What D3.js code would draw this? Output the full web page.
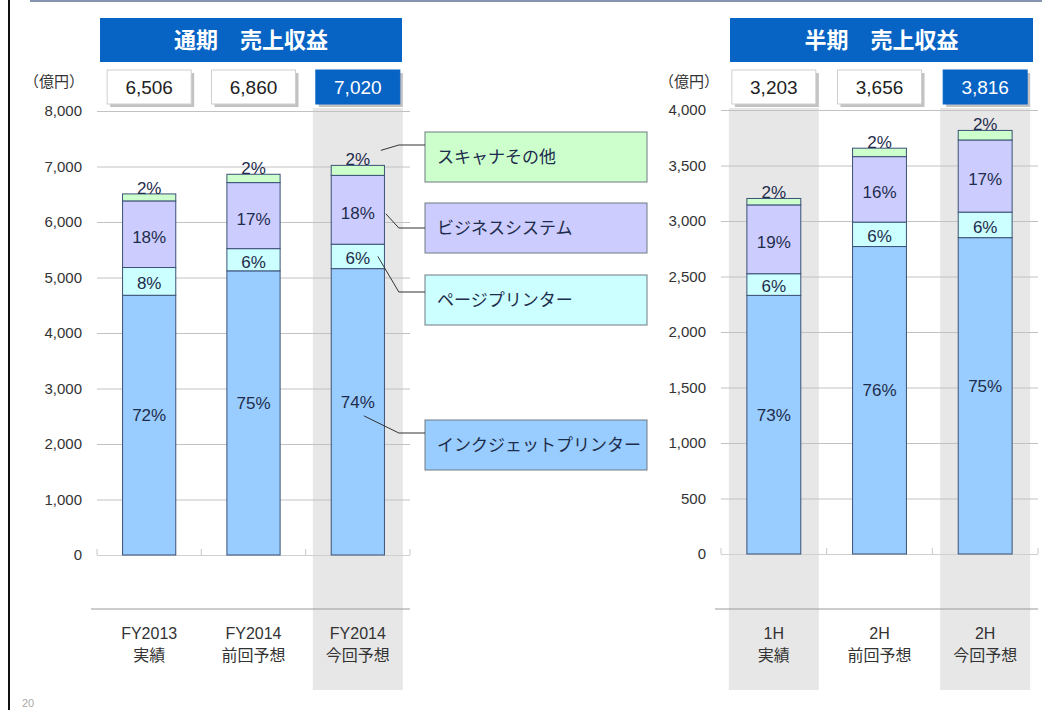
<!DOCTYPE html>
<html>
<head>
<meta charset="utf-8">
<script src="https://cdn.jsdelivr.net/npm/d3@7"></script>
<style>
body { margin: 0; background: #fff; }
svg { display: block; }
text { font-family: "Liberation Sans", Arial, "Noto Sans CJK JP", sans-serif; }
.jp { font-family: "Noto Sans CJK JP", "Liberation Sans", sans-serif; }
</style>
</head>
<body>
<svg id="chart" width="1051" height="710"></svg>
<script>
"use strict";
// segments, bottom to top
const segmentKeys = ["inkjet", "page", "business", "other"];
const segmentNames = ["インクジェットプリンター", "ページプリンター", "ビジネスシステム", "スキャナその他"];
const segmentColors = ["#99ccff", "#ccffff", "#ccccff", "#ccffcc"];

// full year (億円)
const fyTitle = "通期　売上収益";
const fyYear = ["FY2013", "FY2014", "FY2014"];
const fyKind = ["実績", "前回予想", "今回予想"];
const fyTotals = [6506, 6860, 7020];
const fyInkjet = [4680, 5120, 5160];
const fyPage = [500, 400, 440];
const fyBusiness = [1200, 1190, 1240];
const fyOther = [126, 150, 180];
const fyInkjetPct = [72, 75, 74];
const fyPagePct = [8, 6, 6];
const fyBusinessPct = [18, 17, 18];
const fyOtherPct = [2, 2, 2];
const fyTicks = [0, 1000, 2000, 3000, 4000, 5000, 6000, 7000, 8000];

// half year (億円)
const halfTitle = "半期　売上収益";
const halfPeriod = ["1H", "2H", "2H"];
const halfKind = ["実績", "前回予想", "今回予想"];
const halfTotals = [3203, 3656, 3816];
const halfInkjet = [2330, 2770, 2850];
const halfPage = [195, 220, 230];
const halfBusiness = [620, 590, 650];
const halfOther = [58, 76, 86];
const halfInkjetPct = [73, 76, 75];
const halfPagePct = [6, 6, 6];
const halfBusinessPct = [19, 16, 17];
const halfOtherPct = [2, 2, 2];
const halfTicks = [0, 500, 1000, 1500, 2000, 2500, 3000, 3500, 4000];

const BLUE = "#0763c4";
const INK = "#1e2c4c";

const svg = d3.select("#chart");

// page frame
svg.append("line").attr("x1", 9).attr("x2", 9).attr("y1", 0).attr("y2", 710)
    .attr("stroke", "#111").attr("stroke-width", 2);
svg.append("line").attr("x1", 30).attr("x2", 1042).attr("y1", 1).attr("y2", 1)
    .attr("stroke", "#8794ae").attr("stroke-width", 2);
svg.append("text").attr("x", 22).attr("y", 707).attr("font-size", 11)
    .attr("fill", "#aaa").text("20");

function buildRows(cols, pcts) {
    return cols[0].map((_, i) => {
        const r = { index: i };
        segmentKeys.forEach((k, j) => { r[k] = cols[j][i]; r[k + "Pct"] = pcts[j][i]; });
        return r;
    });
}

function drawPanel(p) {
    const n = p.rows.length;
    const x = d3.scaleBand().domain(d3.range(n)).range(p.xRange)
        .paddingInner(0.49).paddingOuter(0.245);
    const y = d3.scaleLinear().domain([0, p.ticks[p.ticks.length - 1]]).range([p.baseY, p.topY]);
    const bw = x.bandwidth();
    const cx = (i) => x(i) + bw / 2;
    const g = svg.append("g");

    // highlighted columns
    g.selectAll("rect.band").data(p.highlight).join("rect")
        .attr("class", "band")
        .attr("x", (i) => cx(i) - 45).attr("y", 108)
        .attr("width", 90).attr("height", 582)
        .attr("fill", "#e7e7e7");

    // title bar
    g.append("rect").attr("x", p.titleX).attr("y", 18).attr("width", p.titleW).attr("height", 44)
        .attr("fill", BLUE);
    g.append("text").attr("class", "jp")
        .attr("x", p.titleX + p.titleW / 2).attr("y", 40).attr("dy", "0.35em")
        .attr("text-anchor", "middle").attr("fill", "#fff")
        .attr("font-size", 22).attr("font-weight", "bold").text(p.title);

    // unit
    g.append("text").attr("class", "jp").attr("x", p.unitX).attr("y", 82).attr("dy", "0.35em")
        .attr("text-anchor", "end").attr("font-size", 15).attr("fill", "#333").text("（億円）");

    // total value boxes
    const boxes = g.selectAll("g.total").data(p.totals).join("g").attr("class", "total");
    boxes.append("rect")
        .attr("x", (d, i) => cx(i) - 42 + 3).attr("y", 73)
        .attr("width", 84).attr("height", 34).attr("fill", "#9a9a9a").attr("opacity", 0.6);
    boxes.append("rect")
        .attr("x", (d, i) => cx(i) - 42).attr("y", 70)
        .attr("width", 84).attr("height", 34)
        .attr("fill", (d, i) => i === p.emphasis ? BLUE : "#fff")
        .attr("stroke", (d, i) => i === p.emphasis ? BLUE : "#cfcfcf");
    boxes.append("text")
        .attr("x", (d, i) => cx(i)).attr("y", 87).attr("dy", "0.35em")
        .attr("text-anchor", "middle").attr("font-size", 19)
        .attr("fill", (d, i) => i === p.emphasis ? "#fff" : "#222")
        .text((d) => d3.format(",")(d));

    // gridlines + tick labels
    g.append("g").attr("transform", `translate(${p.xRange[0]},0)`)
        .call(d3.axisLeft(y).tickValues(p.ticks).tickFormat(d3.format(","))
            .tickSize(-(p.xRange[1] - p.xRange[0])).tickPadding(p.xRange[0] - p.labelX))
        .call((a) => a.select(".domain").remove())
        .call((a) => a.selectAll(".tick line").attr("stroke", (d) => d === 0 ? "#d0d0d0" : "#c2c2c2"))
        .call((a) => a.selectAll(".tick text").attr("font-size", 15).attr("fill", "#333"));

    // small separators on the zero line
    g.selectAll("line.sep").data(d3.range(n + 1)).join("line")
        .attr("class", "sep")
        .attr("x1", (i) => p.xRange[0] + i * (p.xRange[1] - p.xRange[0]) / n)
        .attr("x2", (i) => p.xRange[0] + i * (p.xRange[1] - p.xRange[0]) / n)
        .attr("y1", y(0) - 6).attr("y2", y(0)).attr("stroke", "#c8c8c8");

    // stacked bars
    const stack = d3.stack().keys(segmentKeys)(p.rows);
    g.selectAll("g.layer").data(stack).join("g")
        .attr("class", "layer")
        .attr("fill", (d, j) => segmentColors[j])
        .selectAll("rect").data((d) => d).join("rect")
        .attr("x", (d) => x(d.data.index)).attr("width", bw)
        .attr("y", (d) => y(d[1])).attr("height", (d) => y(d[0]) - y(d[1]))
        .attr("stroke", "#3b5175").attr("stroke-width", 1);

    // percentage labels
    const labelPos = [];
    stack.forEach((layer, j) => {
        layer.forEach((d) => {
            const mid = (y(d[0]) + y(d[1])) / 2;
            let ly = mid;
            if (j === 0) ly = mid - 10;
            else if (j === 1) ly = mid + 2;
            else if (j === 2) ly = mid + 3;
            else ly = y(d[1]) - 6;
            labelPos.push({ j: j, i: d.data.index, x: cx(d.data.index), y: ly, v: d.data[segmentKeys[j] + "Pct"] });
        });
    });
    g.selectAll("text.pct").data(labelPos).join("text")
        .attr("class", "pct")
        .attr("x", (d) => d.x).attr("y", (d) => d.y).attr("dy", "0.35em")
        .attr("text-anchor", "middle").attr("font-size", 17).attr("fill", INK)
        .text((d) => d.v + "%");

    // category axis
    g.append("line").attr("x1", p.xRange[0] - 6).attr("x2", p.xRange[1])
        .attr("y1", 609).attr("y2", 609).attr("stroke", "#9a9a9a");
    const cats = g.selectAll("g.cat").data(p.line1).join("g").attr("class", "cat");
    cats.append("text").attr("x", (d, i) => cx(i)).attr("y", 633).attr("dy", "0.35em")
        .attr("text-anchor", "middle").attr("font-size", 16).attr("fill", "#333").text((d) => d);
    cats.append("text").attr("class", "jp").attr("x", (d, i) => cx(i)).attr("y", 655).attr("dy", "0.35em")
        .attr("text-anchor", "middle").attr("font-size", 16).attr("fill", "#333")
        .text((d, i) => p.line2[i]);

    return labelPos.filter((d) => d.i === p.emphasis);
}

const fyLabels = drawPanel({
    title: fyTitle, titleX: 100, titleW: 302,
    rows: buildRows([fyInkjet, fyPage, fyBusiness, fyOther], [fyInkjetPct, fyPagePct, fyBusinessPct, fyOtherPct]),
    totals: fyTotals, ticks: fyTicks, line1: fyYear, line2: fyKind,
    xRange: [97, 410], baseY: 555, topY: 111, labelX: 82, unitX: 84,
    highlight: [2], emphasis: 2
});

drawPanel({
    title: halfTitle, titleX: 730, titleW: 303,
    rows: buildRows([halfInkjet, halfPage, halfBusiness, halfOther], [halfInkjetPct, halfPagePct, halfBusinessPct, halfOtherPct]),
    totals: halfTotals, ticks: halfTicks, line1: halfPeriod, line2: halfKind,
    xRange: [721, 1038], baseY: 554, topY: 110, labelX: 706, unitX: 719,
    highlight: [0, 2], emphasis: 2
});

// legend boxes, with leader lines from the current forecast bar
const legendX = 425, legendW = 222, legendH = 50;
const legendTop = [420, 275, 203, 132];      // inkjet, page, business, other
const leaderEnd = [13, 17, 25, 13];
const leaderStart = [[6, 14], [20, -2], [28, 1], [23, -9]];

const legend = svg.append("g");
segmentKeys.forEach((k, j) => {
    legend.append("rect").attr("x", legendX).attr("y", legendTop[j])
        .attr("width", legendW).attr("height", legendH)
        .attr("fill", segmentColors[j]).attr("stroke", "#6f7a80");
    legend.append("text").attr("class", "jp")
        .attr("x", legendX + 12).attr("y", legendTop[j] + legendH / 2).attr("dy", "0.35em")
        .attr("font-size", 17).attr("fill", INK).text(segmentNames[j]);
    const lab = fyLabels.find((d) => d.j === j);
    const ey = legendTop[j] + leaderEnd[j];
    legend.append("path")
        .attr("d", d3.line()([[lab.x + leaderStart[j][0], lab.y + leaderStart[j][1]], [lab.x + 41, ey], [legendX, ey]]))
        .attr("fill", "none").attr("stroke", "#333").attr("stroke-width", 1);
});
</script>
</body>
</html>
